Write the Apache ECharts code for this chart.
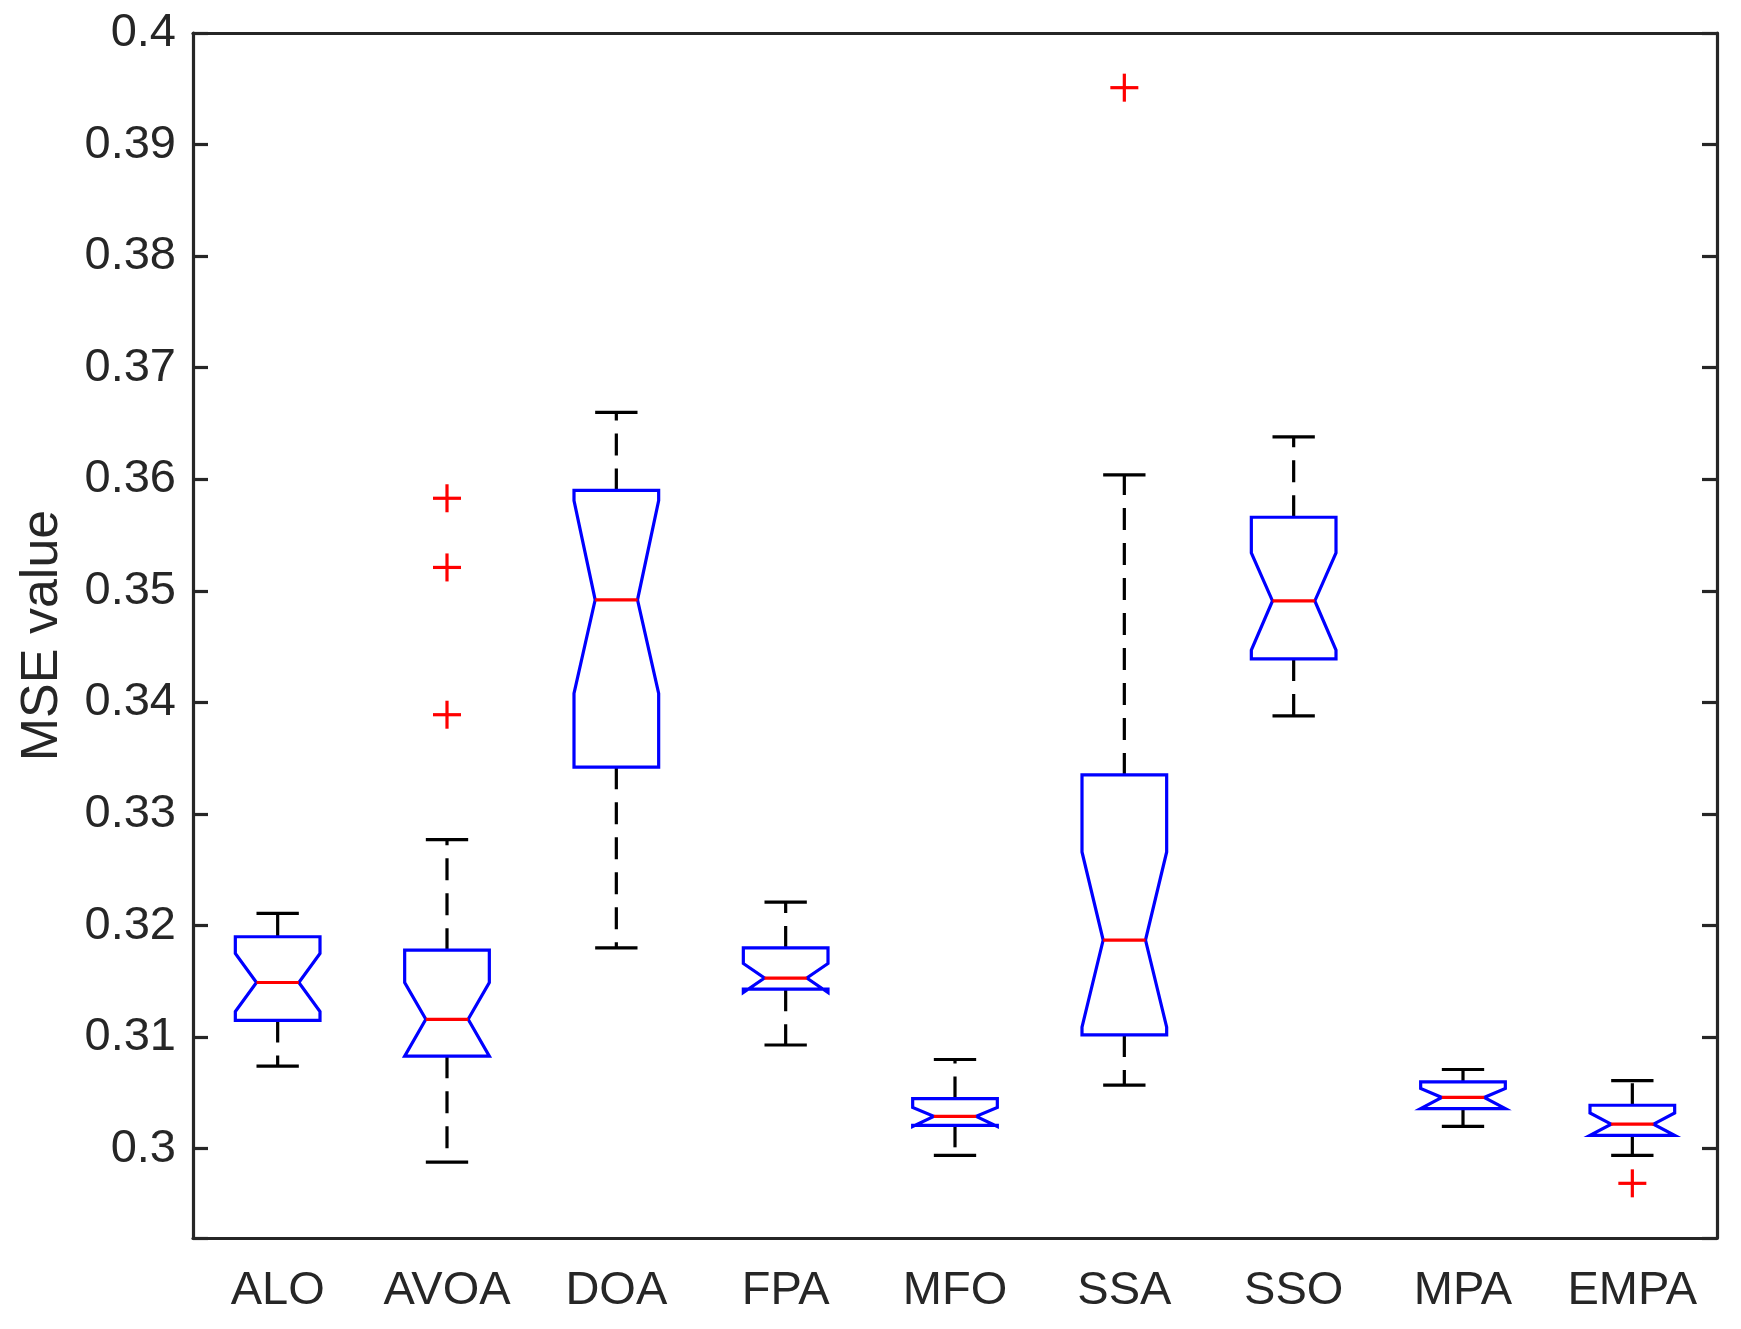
<!DOCTYPE html>
<html lang="en">
<head>
    <meta charset="UTF-8">
    <title>MSE boxplot</title>
    <script src="https://cdn.jsdelivr.net/npm/echarts@6/dist/echarts.min.js"></script>
    <style>
        html, body { margin: 0; padding: 0; background: #fff; }
        #chart { width: 1741px; height: 1329px; }
    </style>
</head>
<body>
<div id="chart"></div>
<script>
    // data
    var categories = ['ALO', 'AVOA', 'DOA', 'FPA', 'MFO', 'SSA', 'SSO', 'MPA', 'EMPA'];
    var lowerWhisker = [0.3074, 0.2988, 0.3180, 0.3093, 0.2994, 0.3057, 0.3388, 0.3020, 0.2994];
    var q1 = [0.3115, 0.3083, 0.3342, 0.3143, 0.3021, 0.3102, 0.3439, 0.3036, 0.3012];
    var notchLow = [0.3123, 0.3083, 0.3408, 0.3140, 0.3020, 0.3109, 0.3447, 0.3036, 0.3012];
    var median = [0.3149, 0.3116, 0.3492, 0.3153, 0.3029, 0.3187, 0.3491, 0.3046, 0.3022];
    var notchHigh = [0.3175, 0.3149, 0.3581, 0.3166, 0.3037, 0.3266, 0.3534, 0.3054, 0.3032];
    var q3 = [0.3190, 0.3178, 0.3590, 0.3180, 0.3045, 0.3335, 0.3566, 0.3060, 0.3039];
    var upperWhisker = [0.3211, 0.3277, 0.3660, 0.3221, 0.3080, 0.3604, 0.3638, 0.3071, 0.3061];
    // outliers as [category index, value]
    var outliers = [[1, 0.3583], [1, 0.3521], [1, 0.3389], [5, 0.3951], [8, 0.2969]];

    var yMin = 0.292, yMax = 0.4;

    var boxRows = categories.map(function (c, i) {
        return [i, lowerWhisker[i], q1[i], notchLow[i], median[i], notchHigh[i], q3[i], upperWhisker[i]];
    });

    var axisColor = '#262626';
    var fontFam = '"Liberation Sans", Arial, sans-serif';
    var lw = 3.2;

    function renderBox(params, api) {
        var idx = api.value(0);
        var band = api.size([1, 0])[0];
        var cx = api.coord([idx, api.value(4)])[0];
        var hw = band * 0.25;   // half box width
        var nw = band * 0.125;  // half notch / cap width
        function py(v) { return api.coord([idx, v])[1]; }
        var lo = py(api.value(1)), b1 = py(api.value(2)), nl = py(api.value(3)),
            md = py(api.value(4)), nh = py(api.value(5)), b3 = py(api.value(6)), hi = py(api.value(7));
        var dashStyle = { stroke: '#000', lineWidth: lw, lineDash: [22, 13] };
        var solid = { stroke: '#000', lineWidth: lw };
        return {
            type: 'group',
            children: [
                { type: 'line', shape: { x1: cx, y1: b3, x2: cx, y2: hi }, style: dashStyle },
                { type: 'line', shape: { x1: cx, y1: b1, x2: cx, y2: lo }, style: dashStyle },
                { type: 'line', shape: { x1: cx - nw, y1: hi, x2: cx + nw, y2: hi }, style: solid },
                { type: 'line', shape: { x1: cx - nw, y1: lo, x2: cx + nw, y2: lo }, style: solid },
                {
                    type: 'polygon',
                    shape: {
                        points: [
                            [cx - hw, b3], [cx - hw, nh], [cx - nw, md], [cx - hw, nl], [cx - hw, b1],
                            [cx + hw, b1], [cx + hw, nl], [cx + nw, md], [cx + hw, nh], [cx + hw, b3]
                        ]
                    },
                    style: { fill: 'none', stroke: '#0000ff', lineWidth: lw, lineJoin: 'miter' }
                },
                { type: 'line', shape: { x1: cx - nw, y1: md, x2: cx + nw, y2: md }, style: { stroke: '#ff0000', lineWidth: lw } }
            ]
        };
    }

    function renderPlus(params, api) {
        var p = api.coord([api.value(0), api.value(1)]);
        var s = 14;
        var st = { stroke: '#ff0000', lineWidth: 3.2 };
        return {
            type: 'group',
            children: [
                { type: 'line', shape: { x1: p[0] - s, y1: p[1], x2: p[0] + s, y2: p[1] }, style: st },
                { type: 'line', shape: { x1: p[0], y1: p[1] - s, x2: p[0], y2: p[1] + s }, style: st }
            ]
        };
    }

    function tickLabel(v) {
        var k = v * 100;
        if (Math.abs(k - Math.round(k)) > 1e-6) return '';
        return String(+v.toFixed(2));
    }

    var chart = echarts.init(document.getElementById('chart'));
    chart.setOption({
        animation: false,
        backgroundColor: '#fff',
        grid: { left: 193, right: 24, top: 33, bottom: 91 },
        xAxis: [{
            type: 'category',
            data: categories,
            boundaryGap: true,
            axisLine: { lineStyle: { color: axisColor, width: lw } },
            axisTick: { inside: true, length: 15, alignWithLabel: true, lineStyle: { color: axisColor, width: lw } },
            axisLabel: { color: axisColor, fontSize: 47, fontFamily: fontFam, margin: 30 },
            splitLine: { show: false }
        }, {
            type: 'category',
            data: categories,
            position: 'top',
            boundaryGap: true,
            axisLine: { lineStyle: { color: axisColor, width: lw } },
            axisTick: { inside: true, length: 15, alignWithLabel: true, lineStyle: { color: axisColor, width: lw } },
            axisLabel: { show: false },
            splitLine: { show: false }
        }],
        yAxis: [{
            type: 'value',
            min: yMin,
            max: yMax,
            minInterval: 0.01,
            maxInterval: 0.01,
            name: 'MSE value',
            nameLocation: 'middle',
            nameGap: 124,
            nameTextStyle: { color: axisColor, fontSize: 52, fontFamily: fontFam },
            axisLine: { show: true, lineStyle: { color: axisColor, width: lw } },
            axisTick: { show: true, inside: true, length: 15, lineStyle: { color: axisColor, width: lw } },
            axisLabel: { color: axisColor, fontSize: 47, fontFamily: fontFam, margin: 17, formatter: tickLabel },
            splitLine: { show: false }
        }, {
            type: 'value',
            position: 'right',
            min: yMin,
            max: yMax,
            minInterval: 0.01,
            maxInterval: 0.01,
            axisLine: { show: true, lineStyle: { color: axisColor, width: lw } },
            axisTick: { show: true, inside: true, length: 15, lineStyle: { color: axisColor, width: lw } },
            axisLabel: { show: false },
            splitLine: { show: false }
        }],
        series: [{
            type: 'custom',
            name: 'box',
            renderItem: renderBox,
            encode: { x: 0, y: [1, 2, 3, 4, 5, 6, 7] },
            data: boxRows,
            z: 3
        }, {
            type: 'custom',
            name: 'outliers',
            renderItem: renderPlus,
            encode: { x: 0, y: 1 },
            data: outliers,
            z: 4
        }]
    });
</script>
</body>
</html>
